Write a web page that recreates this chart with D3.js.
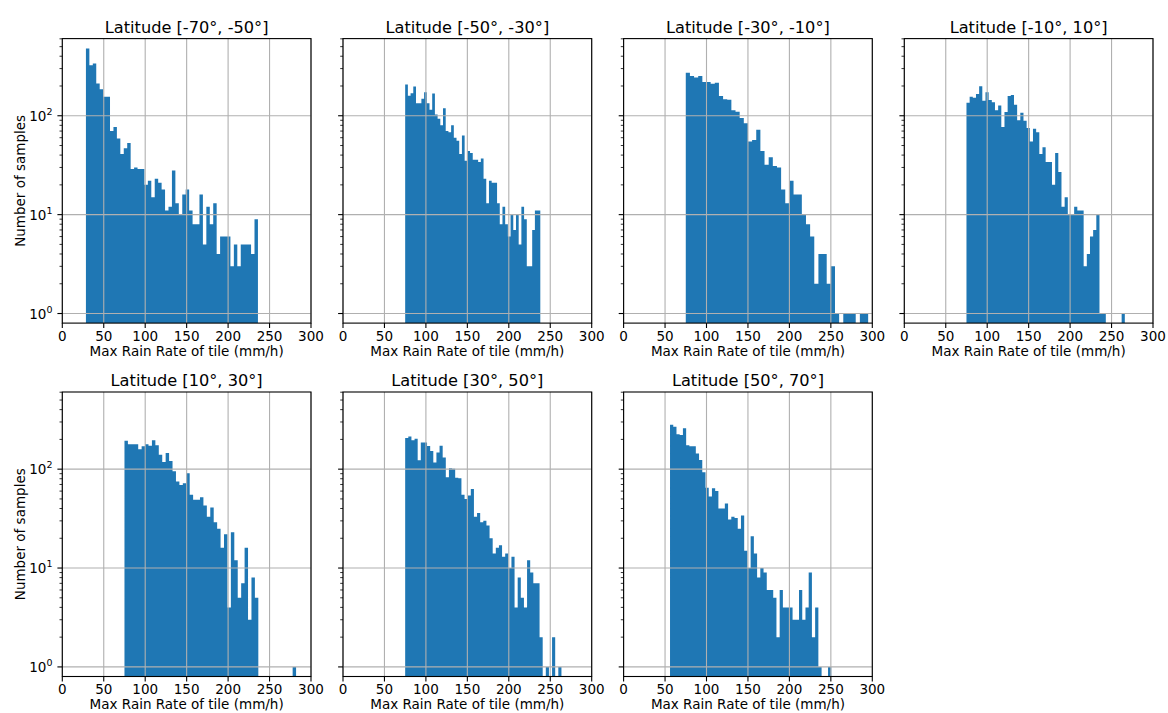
<!DOCTYPE html>
<html>
<head>
<meta charset="utf-8">
<script src="https://cdn.jsdelivr.net/npm/d3@7"></script>
<style>
  body { margin: 0; background: #fff; }
  svg { display: block; }
  text { font-family: "DejaVu Sans", sans-serif; fill: #000; }
</style>
</head>
<body>
<svg id="chart" width="1168" height="713"></svg>
<script>
// Histogram of tile max rain rate per latitude band (50 bins each, log counts)
const panelTitles = [
  "Latitude [-70°, -50°]", "Latitude [-50°, -30°]", "Latitude [-30°, -10°]",
  "Latitude [-10°, 10°]", "Latitude [10°, 30°]", "Latitude [30°, 50°]", "Latitude [50°, 70°]"
];

// Lower and upper edge (mm/h) of each band's bin range
const binLow  = [28.5, 75, 75, 75, 75, 75, 56];
const binHigh = [236, 238, 300, 266, 282, 263.5, 250.5];

// Sample counts per bin
const countsS70S50 = [479, 325, 338, 212, 185, 156, 156, 70, 77, 59, 41, 47, 53, 29, 30, 29, 29, 20, 22, 15,
  23, 21, 18, 11, 12, 28, 13, 10, 16, 18, 11, 8, 8, 16, 5, 12, 8, 13, 4, 6, 6, 6, 3, 5, 3, 5, 5, 5, 4, 9];
const countsS50S30 = [207, 159, 169, 198, 134, 134, 149, 173, 134, 115, 168, 103, 93, 80, 119, 70, 68, 80, 60, 56,
  41, 63, 35, 44, 42, 36, 36, 34, 37, 23, 13, 22, 21, 21, 13, 8, 12, 8, 6, 10, 7, 10, 5, 12, 9, 3, 3, 7, 11, 11];
const countsS30S10 = [272, 252, 244, 252, 220, 220, 211, 216, 158, 147, 145, 114, 110, 95, 84, 55, 57, 72, 44, 32,
  38, 31, 30, 18, 13, 22, 16, 16, 10, 8, 6, 2, 4, 4, 2, 3, 1, 0, 1, 1, 1, 0, 1, 1, 0];
const countsS10N10 = [135, 156, 152, 166, 199, 142, 173, 144, 137, 114, 127, 77, 109, 158, 162, 129, 90, 107, 89, 75,
  55, 74, 68, 41, 48, 34, 34, 20, 42, 27, 12, 15, 10, 10, 12, 11, 11, 3, 4, 6, 7, 10, 1, 1, 0, 0, 0, 0, 0, 1];
const countsN10N30 = [194, 179, 179, 179, 159, 170, 179, 172, 196, 175, 140, 118, 146, 121, 95, 75, 69, 72, 91, 55,
  49, 49, 52, 43, 33, 41, 29, 25, 16, 22, 4, 23, 12, 5, 7, 16, 3, 8, 5, 0, 0, 0, 0, 0, 0, 0, 0, 0, 0, 1];
const countsN30N50 = [206, 214, 196, 203, 123, 186, 186, 171, 153, 117, 147, 172, 131, 83, 102, 101, 82, 81, 55, 50,
  54, 63, 33, 36, 29, 30, 27, 20, 14, 16, 17, 13, 14, 10, 13, 4, 8, 5, 4, 12, 9, 7, 7, 2, 0, 1, 0, 2, 0, 1];
const countsN50N70 = [281, 268, 226, 222, 260, 175, 170, 170, 144, 124, 93, 65, 53, 64, 60, 40, 40, 45, 31, 33,
  32, 25, 34, 15, 10, 21, 14, 8, 10, 9, 6, 6, 5, 2, 6, 4, 4, 4, 3, 3, 6, 3, 4, 9, 2, 4, 1, 0, 0, 1];

const panelCounts = [countsS70S50, countsS50S30, countsS30S10, countsS10N10, countsN10N30, countsN30N50, countsN50N70];

const xTicks = [0, 50, 100, 150, 200, 250, 300];
const yMajorTicks = [1, 10, 100];
const yTickExponents = ["0", "1", "2"];
const yMinorTicks = [2, 3, 4, 5, 6, 7, 8, 9, 20, 30, 40, 50, 60, 70, 80, 90, 200, 300, 400, 500, 600];
const xLabelText = "Max Rain Rate of tile (mm/h)";
const yLabelText = "Number of samples";

// Figure layout
const colLeft = [62.3, 343, 623.6, 904.3];
const rowTop = [38.6, 392];
const plotW = 248.7, plotH = 284.5;
const barColor = "#1f77b4";
const gridColor = "#b0b0b0";

const svg = d3.select("#chart");

panelCounts.forEach((counts, p) => {
  const col = p % 4, row = Math.floor(p / 4);
  const g = svg.append("g").attr("transform", `translate(${colLeft[col]},${rowTop[row]})`);

  const x = d3.scaleLinear().domain([0, 300]).range([0, plotW]);
  const y = d3.scaleLog().domain([0.8, 603]).range([plotH, 0]);

  const w = (binHigh[p] - binLow[p]) / counts.length;
  const bins = counts.map((c, i) => ({ x0: binLow[p] + i * w, x1: binLow[p] + (i + 1) * w, count: c }));

  // bars: contiguous non-empty bins merged into one outline so no seams show
  const path = d3.path();
  let open = false, lastX = 0;
  bins.forEach(b => {
    if (b.count > 0) {
      if (!open) { path.moveTo(x(b.x0), plotH); open = true; }
      path.lineTo(x(b.x0), y(b.count));
      path.lineTo(x(b.x1), y(b.count));
      lastX = x(b.x1);
    } else if (open) {
      path.lineTo(lastX, plotH); path.closePath(); open = false;
    }
  });
  if (open) { path.lineTo(lastX, plotH); path.closePath(); }
  g.append("path").attr("d", path.toString()).attr("fill", barColor);

  // grid lines above the bars
  g.selectAll(".gx").data(xTicks).join("line")
    .attr("x1", d => x(d)).attr("x2", d => x(d)).attr("y1", 0).attr("y2", plotH)
    .attr("stroke", gridColor).attr("stroke-width", 1.1);
  g.selectAll(".gy").data(yMajorTicks).join("line")
    .attr("x1", 0).attr("x2", plotW).attr("y1", d => y(d)).attr("y2", d => y(d))
    .attr("stroke", gridColor).attr("stroke-width", 1.1);

  // frame
  g.append("rect").attr("x", 0).attr("y", 0).attr("width", plotW).attr("height", plotH)
    .attr("fill", "none").attr("stroke", "#000").attr("stroke-width", 1.1);

  // x ticks and labels
  g.selectAll(".tx").data(xTicks).join("line")
    .attr("x1", d => x(d)).attr("x2", d => x(d)).attr("y1", plotH).attr("y2", plotH + 4.9)
    .attr("stroke", "#000").attr("stroke-width", 1.1);
  g.selectAll(".lx").data(xTicks).join("text")
    .attr("x", d => x(d)).attr("y", plotH + 17.5)
    .attr("text-anchor", "middle").attr("font-size", 13.5).text(d => d);

  // y ticks (major + minor)
  g.selectAll(".ty").data(yMajorTicks).join("line")
    .attr("x1", -4.9).attr("x2", 0).attr("y1", d => y(d)).attr("y2", d => y(d))
    .attr("stroke", "#000").attr("stroke-width", 1.1);
  g.selectAll(".tym").data(yMinorTicks).join("line")
    .attr("x1", -2.8).attr("x2", 0).attr("y1", d => y(d)).attr("y2", d => y(d))
    .attr("stroke", "#000").attr("stroke-width", 0.8);

  if (col === 0) {
    yMajorTicks.forEach((t, i) => {
      const lbl = g.append("text").attr("x", -9.8).attr("y", y(t) + 5)
        .attr("text-anchor", "end").attr("font-size", 13.5);
      lbl.append("tspan").text("10");
      lbl.append("tspan").attr("font-size", 9.5).attr("dy", -6).text(yTickExponents[i]);
    });
    g.append("text")
      .attr("transform", `translate(${25 - colLeft[col]},${plotH / 2}) rotate(-90)`)
      .attr("text-anchor", "middle").attr("font-size", 13.5).text(yLabelText);
  }

  // titles and axis labels
  g.append("text").attr("x", plotW / 2).attr("y", -5.6)
    .attr("text-anchor", "middle").attr("font-size", 16.2).text(panelTitles[p]);
  g.append("text").attr("x", plotW / 2).attr("y", plotH + 32.5)
    .attr("text-anchor", "middle").attr("font-size", 13.5).text(xLabelText);
});
</script>
</body>
</html>
